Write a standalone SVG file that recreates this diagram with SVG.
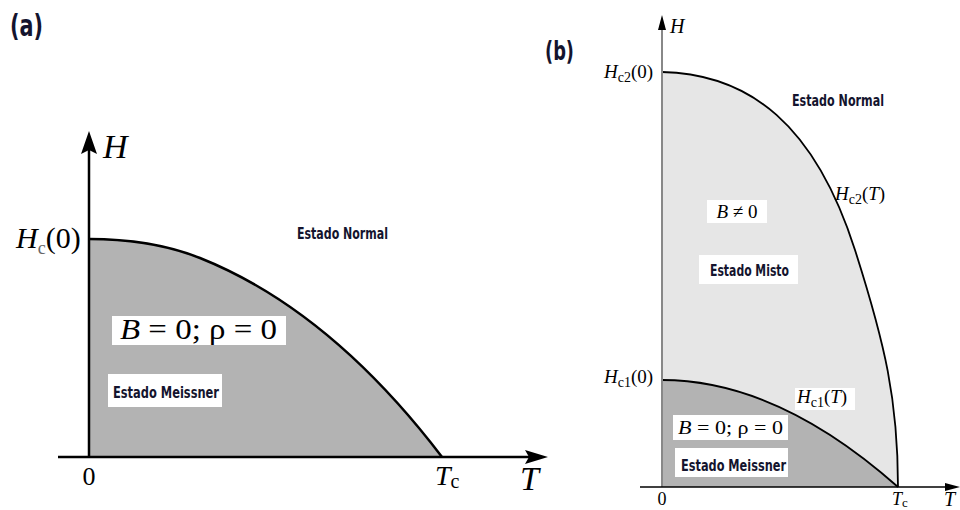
<svg xmlns="http://www.w3.org/2000/svg" width="960" height="510" viewBox="0 0 960 510">
<style>
.m{font-family:"Liberation Serif","DejaVu Serif",serif;fill:#000}
.i{font-style:italic}
.lab{font-family:"DejaVu Sans Condensed","DejaVu Sans",sans-serif;font-weight:bold;fill:#14142e}
.box{fill:#fff}
.ax{stroke:#000;fill:none}
</style>
<rect width="960" height="510" fill="#fff"/>

<!-- Panel (a) -->
<g id="panel-a">
  <text class="lab" x="10" y="36" font-size="30" textLength="33" lengthAdjust="spacingAndGlyphs">(a)</text>
  <g id="a-region">
    <path d="M89,239 C130,239 170,246 200,258 Q330,310 442,457 L89,457 Z" fill="#b3b3b3"/>
    <path d="M89,239 C130,239 170,246 200,258 Q330,310 442,457" fill="none" stroke="#000" stroke-width="2.5"/>
  </g>
  <g id="a-axes">
    <line class="ax" x1="89" y1="457" x2="89" y2="150" stroke-width="2.5"/>
    <path d="M89,131 L97,154 L89,150 L81,154 Z" fill="#000"/>
    <line class="ax" x1="58" y1="457" x2="530" y2="457" stroke-width="2.5"/>
    <path d="M548,457 L525,450 L529,457 L525,464 Z" fill="#000"/>
  </g>
  <text class="m i" x="103" y="158" font-size="34">H</text>
  <text class="m" x="16" y="248" font-size="30"><tspan class="i">H</tspan><tspan font-size="18" dy="6" fill="#666">c</tspan><tspan dy="-6">(0)</tspan></text>
  <g id="a-normal"><text class="lab" x="297" y="239" font-size="16" textLength="91" lengthAdjust="spacingAndGlyphs">Estado Normal</text></g>
  <g id="a-b0">
    <rect class="box" x="112" y="316" width="174" height="29"/>
    <text class="m" x="120" y="339" font-size="30" textLength="157" lengthAdjust="spacingAndGlyphs"><tspan class="i">B</tspan> = 0; ρ = 0</text>
  </g>
  <g id="a-meissner">
    <rect class="box" x="108" y="374" width="114" height="33"/>
    <text class="lab" x="113" y="398" font-size="16" textLength="106" lengthAdjust="spacingAndGlyphs">Estado Meissner</text>
  </g>
  <text class="m" x="89" y="485" font-size="26" text-anchor="middle">0</text>
  <text class="m" x="435" y="485" font-size="28"><tspan class="i">T</tspan><tspan font-size="20" dy="3">c</tspan></text>
  <text class="m i" x="520" y="490" font-size="34">T</text>
</g>

<!-- Panel (b) -->
<g id="panel-b">
  <text class="lab" x="545" y="60" font-size="27" textLength="29" lengthAdjust="spacingAndGlyphs">(b)</text>
  <g id="b-mixed-region">
    <path d="M662,72 C750,74 815,125 855,250 C885,344 898,400 898,487 L662,487 Z" fill="#e6e6e6"/>
  </g>
  <g id="b-meissner-region">
    <path d="M662,380 C720,380 800,400 898,487 L662,487 Z" fill="#b3b3b3"/>
  </g>
  <g id="b-curves">
    <path d="M662,72 C750,74 815,125 855,250 C885,344 898,400 898,487" fill="none" stroke="#000" stroke-width="1.8"/>
    <path d="M662,380 C720,380 800,400 898,487" fill="none" stroke="#000" stroke-width="1.8"/>
  </g>
  <g id="b-axes">
    <line x1="662" y1="487" x2="662" y2="26" stroke="#888" stroke-width="2"/>
    <path d="M662,15 L666,30 L658,30 Z" fill="#000"/>
    <line class="ax" x1="640" y1="487" x2="948" y2="487" stroke-width="1.5"/>
    <path d="M960,487 L945,483 L945,491 Z" fill="#000"/>
  </g>
  <text class="m i" x="670" y="33" font-size="20">H</text>
  <text class="m" x="604" y="78" font-size="19"><tspan class="i">H</tspan><tspan font-size="14" dy="4">c2</tspan><tspan dy="-4">(0)</tspan></text>
  <g id="b-normal"><text class="lab" x="792" y="106" font-size="15" textLength="92" lengthAdjust="spacingAndGlyphs">Estado Normal</text></g>
  <text class="m" x="835" y="200" font-size="19"><tspan class="i">H</tspan><tspan font-size="14" dy="4">c2</tspan><tspan dy="-4">(</tspan><tspan class="i">T</tspan>)</text>
  <g id="b-bneq">
    <rect class="box" x="707" y="200" width="60" height="23"/>
    <text class="m" x="737" y="218" font-size="19" text-anchor="middle"><tspan class="i">B</tspan> ≠ 0</text>
  </g>
  <g id="b-misto">
    <rect class="box" x="699" y="255" width="99" height="29"/>
    <text class="lab" x="710" y="276" font-size="15" textLength="79" lengthAdjust="spacingAndGlyphs">Estado Misto</text>
  </g>
  <text class="m" x="604" y="383" font-size="19"><tspan class="i">H</tspan><tspan font-size="14" dy="4">c1</tspan><tspan dy="-4">(0)</tspan></text>
  <g id="b-hc1t">
    <rect class="box" x="795" y="388" width="60" height="22"/>
    <text class="m" x="797" y="403" font-size="19"><tspan class="i">H</tspan><tspan font-size="14" dy="4">c1</tspan><tspan dy="-4">(</tspan><tspan class="i">T</tspan>)</text>
  </g>
  <g id="b-b0">
    <rect class="box" x="673" y="415" width="115" height="25"/>
    <text class="m" x="678" y="434" font-size="19" textLength="105" lengthAdjust="spacingAndGlyphs"><tspan class="i">B</tspan> = 0; ρ = 0</text>
  </g>
  <g id="b-meissner">
    <rect class="box" x="675" y="448" width="113" height="29"/>
    <text class="lab" x="681" y="471" font-size="15" textLength="105" lengthAdjust="spacingAndGlyphs">Estado Meissner</text>
  </g>
  <text class="m" x="662" y="505" font-size="18" text-anchor="middle">0</text>
  <text class="m" x="892" y="505" font-size="18"><tspan class="i">T</tspan><tspan font-size="13" dy="2">c</tspan></text>
  <text class="m i" x="944" y="506" font-size="20">T</text>
</g>
</svg>
